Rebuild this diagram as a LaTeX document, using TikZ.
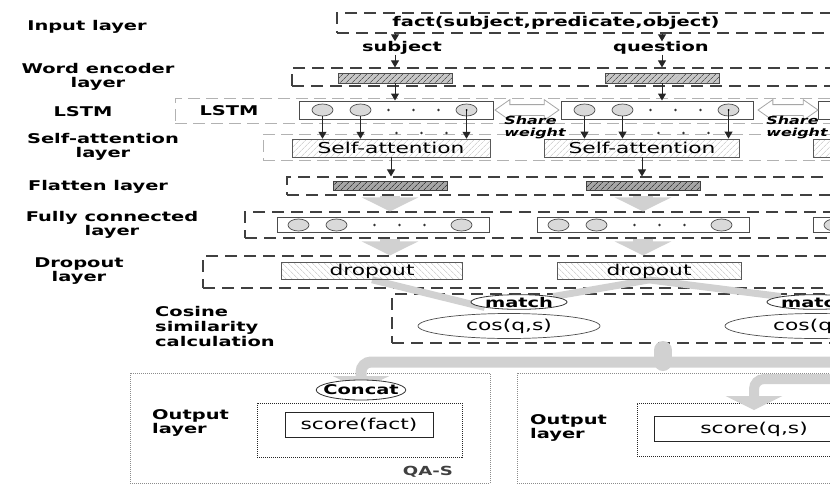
\documentclass[tikz,border=0pt]{standalone}
\usepackage{fontspec}
\setmainfont{DejaVu Sans}[FakeStretch=1.45]
\usetikzlibrary{arrows.meta}
\usetikzlibrary{positioning}
\usetikzlibrary{fit}
\usetikzlibrary{shapes.geometric}
\usetikzlibrary{shapes.arrows}
\usetikzlibrary{patterns.meta}

\pgfdeclarelayer{frames}
\pgfdeclarelayer{flows}
\pgfsetlayers{frames,flows,main}

\tikzset{
  tag/.style={font=\fontsize{13.4}{14.5}\selectfont\bfseries, align=center, inner sep=0pt},
  body/.style={font=\fontsize{15}{17}\selectfont},
  layerframe/.style={draw=black!75, line width=1.2pt, dash pattern=on 12pt off 7pt, inner sep=0pt},
  lightframe/.style={draw=black!30, line width=1pt, dash pattern=on 12pt off 6pt, inner sep=0pt},
  outframe/.style={draw=black!45, line width=0.6pt, dash pattern=on 1pt off 1pt, inner sep=0pt},
  scoreframe/.style={draw=black!85, line width=0.9pt, dash pattern=on 1pt off 1pt, inner sep=0pt},
  cellrow/.style={draw=black!70, line width=1pt, minimum height=18pt, inner sep=0pt},
  unit/.style={ellipse, draw=black!70, fill=black!15, line width=0.7pt, minimum width=21pt, minimum height=12pt, inner sep=0pt},
  wordcell/.style={draw=black!70, line width=0.8pt, preaction={fill=black!22}, pattern={Lines[angle=45,distance=4pt,line width=0.7pt]}, pattern color=black!65, minimum width=114pt, minimum height=10pt, inner sep=0pt},
  flatcell/.style={draw=black!75, line width=0.8pt, preaction={fill=black!35}, pattern={Lines[angle=45,distance=4pt,line width=0.8pt]}, pattern color=black!75, minimum width=114pt, minimum height=9pt, inner sep=0pt},
  attcell/.style={body, draw=black!65, line width=0.8pt, pattern={Lines[angle=45,distance=4pt,line width=0.5pt]}, pattern color=black!25, minimum height=18pt, inner sep=0pt},
  dropcell/.style={body, draw=black!65, line width=0.8pt, pattern={Lines[angle=-45,distance=4pt,line width=0.5pt]}, pattern color=black!25, minimum height=17pt, inner sep=0pt},
  matchtag/.style={tag, ellipse, draw=black!80, fill=white, line width=0.8pt, minimum width=94pt, minimum height=14pt},
  cosell/.style={body, ellipse, draw=black!70, fill=white, line width=0.7pt, minimum width=182pt, minimum height=25pt, inner sep=0pt},
  scorecell/.style={body, draw=black!85, fill=white, line width=0.9pt, minimum height=25pt, inner sep=0pt},
  sharearrow/.style={double arrow, draw=black!35, fill=white, line width=0.8pt, inner sep=5pt, double arrow head extend=5pt, double arrow tip angle=70},
  sharetag/.style={font=\fontsize{11}{12}\selectfont\bfseries\itshape, align=left, inner sep=0pt},
  qatag/.style={font=\fontsize{12.5}{14}\selectfont\bfseries, text=black!75, inner sep=0pt},
  arr/.style={-{Triangle[length=7pt,width=8pt]}, line width=1pt, draw=black!85},
  bigflow/.style={draw=black!18, line width=20pt, -{Triangle[length=14pt,width=56pt]}},
  flowline/.style={draw=black!18, line width=7pt}
}

\begin{document}
\begin{tikzpicture}[x=1pt, y=-1pt]
  \useasboundingbox (0,0) rectangle (830,485);

  % dashed layer frames
  \begin{pgfonlayer}{frames}
    \node[layerframe, fit={(337,13) (850,33)}] (inbox) {};
    \node[layerframe, fit={(292,68) (850,86)}] (encbox) {};
    \node[lightframe, fit={(175,98) (850,123)}] (lstmbox) {};
    \node[lightframe, fit={(263,134) (850,160)}] (sabox) {};
    \node[layerframe, fit={(287,177) (850,195)}] (flatbox) {};
    \node[layerframe, fit={(245,212) (850,238)}] (fcbox) {};
    \node[layerframe, fit={(203,256) (850,288)}] (dropbox) {};
    \node[layerframe, fit={(392,294) (850,343)}] (cosbox) {};
    \node[outframe, fit={(130,373) (490,483)}] (outl) {};
    \node[outframe, fit={(517,373) (900,483)}] (outr) {};
    \node[scoreframe, fit={(257,403) (462,457)}] (innerl) {};
    \node[scoreframe, fit={(637,403) (900,456)}] (innerr) {};
  \end{pgfonlayer}

  % layer names
  \node[tag] (tinput) at (87,27) {Input layer};
  \node[tag] (tword) at (98,77) {Word encoder\\layer};
  \node[tag] (tlstm) at (83,112) {LSTM};
  \node[tag] (tatt) at (103,147) {Self-attention\\layer};
  \node[tag] (tflat) at (98,187) {Flatten layer};
  \node[tag] (tfc) at (112,225) {Fully connected\\layer};
  \node[tag] (tdrop) at (79,271) {Dropout\\layer};
  \node[tag, align=left, anchor=west, font=\fontsize{13.4}{15}\selectfont\bfseries] (tcos) at (155,326) {Cosine\\similarity\\calculation};
  \node[tag, align=left, anchor=west] (toutl) at (152,423) {Output\\layer};
  \node[tag, align=left, anchor=west] (toutr) at (530,428) {Output\\layer};

  % input and word encoder
  \node[tag] (fact) at (556,23) {fact(subject,predicate,object)};
  \node[tag] (subj) at (402,48) {subject};
  \node[tag] (quest) at (661,48) {question};
  \node[wordcell] (wsub) at (395,78) {};
  \node[wordcell] (wque) at (662,78) {};
  \foreach \w/\t in {wsub/subj,wque/quest} {
    \draw[arr] (inbox.south -| \w) -- (\w |- \t.north);
    \draw[arr] (\w |- \t.south) -- (\w |- encbox.north);
  }

  % LSTM rows
  \node[tag] (lstmname) at (229,111) {LSTM};
  \node[cellrow, minimum width=194pt] (lstm1) at (396,110) {};
  \node[cellrow, minimum width=192pt] (lstm2) at (657,110) {};
  \node[cellrow, minimum width=194pt] (lstm3) at (915,110) {};
  \draw[arr] (wsub.south) -- (wsub.south |- lstm1.north);
  \draw[arr] (wque.south) -- (wque.south |- lstm2.north);
  \foreach \r in {lstm1,lstm2} {
    \node[unit] (\r-a) at ([xshift=24pt]\r.west) {};
    \node[unit] (\r-b) at ([xshift=62pt]\r.west) {};
    \node[unit] (\r-n) at ([xshift=168pt]\r.west) {};
    \foreach \d in {90,115,140}
      \fill[black!80] ([xshift=\d pt]\r.west) circle (1.4pt);
  }
  \node[sharearrow, minimum height=64pt] (share1) at (527,110) {};
  \node[sharearrow, minimum height=60pt] (share2) at (788,110) {};
  \node[sharetag] (sw1) at (535,128) {Share\\weight};
  \node[sharetag] (sw2) at (797,128) {Share\\weight};

  % self-attention
  \node[attcell, minimum width=198pt] (sa1) at (391,148) {Self-attention};
  \node[attcell, minimum width=195pt] (sa2) at (642,148) {Self-attention};
  \node[attcell, minimum width=198pt] (sa3) at (912,148) {};
  \foreach \r/\s in {lstm1/sa1,lstm2/sa2} {
    \draw[arr] (\r-a.south) -- (\r-a |- \s.north);
    \draw[arr] (\r-b.south) -- (\r-b |- \s.north);
    \draw[arr] (\r-n.center) -- (\r-n |- \s.north);
    \fill (\r-n.center) circle (1pt);
    \foreach \d in {98,123,148}
      \fill[black!80] ([xshift=\d pt, yshift=-23pt]\r.west) circle (1.3pt);
  }

  % flatten
  \node[flatcell] (flat1) at (390,186) {};
  \node[flatcell] (flat2) at (643,186) {};
  \draw[arr] (sa1.south) -- (sa1.south |- flatbox.north);
  \draw[arr] (sa2.south) -- (sa2.south |- flatbox.north);

  % fully connected
  \node[cellrow, minimum width=212pt, minimum height=15pt] (fc1) at (383,225) {};
  \node[cellrow, minimum width=212pt, minimum height=15pt] (fc2) at (643,225) {};
  \node[cellrow, minimum width=212pt, minimum height=15pt] (fc3) at (919,225) {};
  \foreach \r in {fc1,fc2} {
    \node[unit] (\r-a) at ([xshift=22pt]\r.west) {};
    \node[unit] (\r-b) at ([xshift=60pt]\r.west) {};
    \node[unit] (\r-n) at ([xshift=185pt]\r.west) {};
    \foreach \d in {98,123,148}
      \fill[black!80] ([xshift=\d pt]\r.west) circle (1.4pt);
  }
  \node[unit] (fc3-a) at ([xshift=22pt]fc3.west) {};

  % dropout
  \node[dropcell, minimum width=181pt] (drop1) at (372,271) {dropout};
  \node[dropcell, minimum width=184pt] (drop2) at (649,271) {dropout};

  % cosine similarity
  \node[matchtag] (match1) at (519,302) {match};
  \node[matchtag] (match2) at (815,302) {match};
  \node[cosell] (cos1) at (509,326) {cos(q,s)};
  \node[cosell] (cos2) at (816,326) {cos(q,s)};

  % output
  \node[matchtag, minimum width=88pt, minimum height=20pt, inner xsep=-6pt] (concat) at (361,390) {Concat};
  \node[scorecell, minimum width=148pt] (sfact) at (359,425) {score(fact)};
  \node[scorecell, minimum width=200pt] (sqs) at (754,429) {score(q,s)};
  \node[qatag] (qas) at (428,472) {QA-S};

  \coordinate (cosout) at (663,350);
  \coordinate (feedl) at (850,362);
  \coordinate (feedr) at (850,379);

  % grey data flow
  \begin{pgfonlayer}{flows}
    \foreach \f in {flat1,flat2} {
      \draw[bigflow] (\f |- flatbox.south) -- (\f |- fcbox.north);
      \draw[bigflow] (\f |- fcbox.south) -- (\f |- dropbox.north);
    }
    \draw[flowline] (drop1.south) -- (match1.south west);
    \draw[flowline] (drop2.south) -- (match1.north east);
    \draw[flowline] (drop2.south) -- (match2.north west);
    \draw[flowline, line width=18pt, line cap=round] (cosout) -- (cosout |- feedl);
    \draw[bigflow, line width=11pt, rounded corners=10pt] (feedl) -| (concat.center);
    \draw[bigflow, line width=10pt, rounded corners=10pt] (feedr) -| ([yshift=6pt]sqs.north);
  \end{pgfonlayer}
\end{tikzpicture}
\end{document}
